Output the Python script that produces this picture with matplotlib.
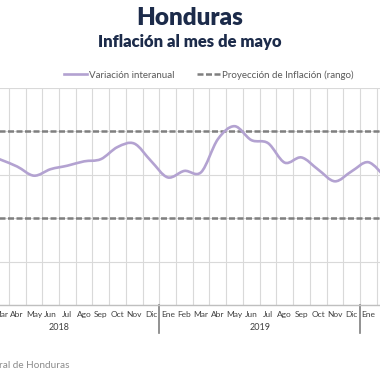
import numpy as np
import matplotlib.pyplot as plt
from matplotlib.path import Path
from matplotlib.patches import PathPatch
from matplotlib.lines import Line2D

plt.rcParams['font.family'] = ['Lato', 'DejaVu Sans']

# datos: inflacion interanual mensual, ene-2018 a feb-2020
meses = ['Ene', 'Feb', 'Mar', 'Abr', 'May', 'Jun', 'Jul', 'Ago', 'Sep', 'Oct', 'Nov', 'Dic']
etiquetas = meses + meses + ['Ene', 'Feb']
anios = ['2018', '2019']
inflacion = [4.60, 4.50, 4.35, 4.19, 3.98, 4.13, 4.21, 4.31, 4.36, 4.64, 4.72, 4.32,
             3.94, 4.09, 4.06, 4.82, 5.12, 4.80, 4.73, 4.28, 4.40, 4.12, 3.85, 4.08,
             4.29, 3.95]
rango = [3, 5]

morado = '#b3a2d1'
gris = '#7f7f7f'
navy = '#1c2b4a'

fig = plt.figure(figsize=(3.8, 3.8), dpi=100)
# el grafico original esta recortado a los lados
ax = fig.add_axes([-0.1087, 0.1974, 1.144, 0.571])

x = np.arange(len(inflacion))
ax.set_xlim(-0.5, len(inflacion) - 0.5)
ax.set_ylim(1, 6)

# linea suavizada (bezier tipo Excel)
pts = np.column_stack([x, inflacion]).astype(float)
verts = [pts[0]]
codes = [Path.MOVETO]
n = len(pts)
for i in range(n - 1):
    p0 = pts[max(i - 1, 0)]
    p1 = pts[i]
    p2 = pts[i + 1]
    p3 = pts[min(i + 2, n - 1)]
    verts += [p1 + (p2 - p0) / 6, p2 - (p3 - p1) / 6, p2]
    codes += [Path.CURVE4] * 3
ax.add_patch(PathPatch(Path(verts, codes), fill=False, edgecolor=morado, lw=1.9,
                       capstyle='round', joinstyle='round', zorder=4))

# rango de proyeccion
dash = (0, (2.4, 1.0))
for r in rango:
    ax.axhline(r, color=gris, lw=1.8, ls=dash, zorder=3)

# cuadricula
ax.set_yticks(range(1, 7))
ax.set_yticklabels([])
ax.tick_params(axis='y', length=0)
ax.yaxis.grid(True, color='#d9d9d9', lw=0.8)
# las etiquetas fuera del recorte quedan vacias
visibles = [e if 2 <= i <= 24 else '' for i, e in enumerate(etiquetas)]
ax.set_xticks(x)
ax.set_xticklabels(visibles, fontsize=6, color='#404040')
ax.set_xticks(x[:-1] + 0.5, minor=True)
ax.tick_params(axis='x', which='both', length=0, pad=4.5)
ax.xaxis.grid(True, which='minor', color='#d9d9d9', lw=0.8)
ax.set_axisbelow(True)
for s in ['top', 'left', 'right']:
    ax.spines[s].set_visible(False)
ax.spines['bottom'].set_color('#bfbfbf')
ax.spines['bottom'].set_linewidth(1.0)

# separadores de anio y etiquetas
trans = ax.get_xaxis_transform()
for sx in [-0.5, 11.5, 23.5]:
    ax.plot([sx, sx], [0, -0.13], color=gris, lw=1.2, transform=trans, clip_on=False)
for k, a in enumerate(anios):
    ax.text(5.5 + 12 * k, -0.106, a, transform=trans, ha='center', va='center',
            fontsize=6.5, color='#404040')

# leyenda
handles = [Line2D([], [], color=morado, lw=1.9),
           Line2D([], [], color=gris, lw=1.8, ls=dash)]
fig.legend(handles, ['Variación interanual', 'Proyección de Inflación (rango)'],
           loc='center', bbox_to_anchor=(0.549, 0.803), ncol=2, frameon=False,
           fontsize=7, handlelength=2.4, handletextpad=0.2, columnspacing=2.3,
           labelcolor='#595959')

# titulos y fuente
fig.text(0.5, 1 - 18 / 380, 'Honduras', ha='center', va='center', fontsize=17.5,
         weight='heavy', color=navy)
fig.text(0.5, 1 - 42 / 380, 'Inflación al mes de mayo', ha='center', va='center',
         fontsize=12, weight='heavy', color=navy)
fig.text(69 / 380, 1 - 366 / 380, 'Fuente: Banco Central de Honduras', ha='right',
         va='center', fontsize=7.2, color='#8c8c8c')

fig.savefig('out.png', dpi=100)
